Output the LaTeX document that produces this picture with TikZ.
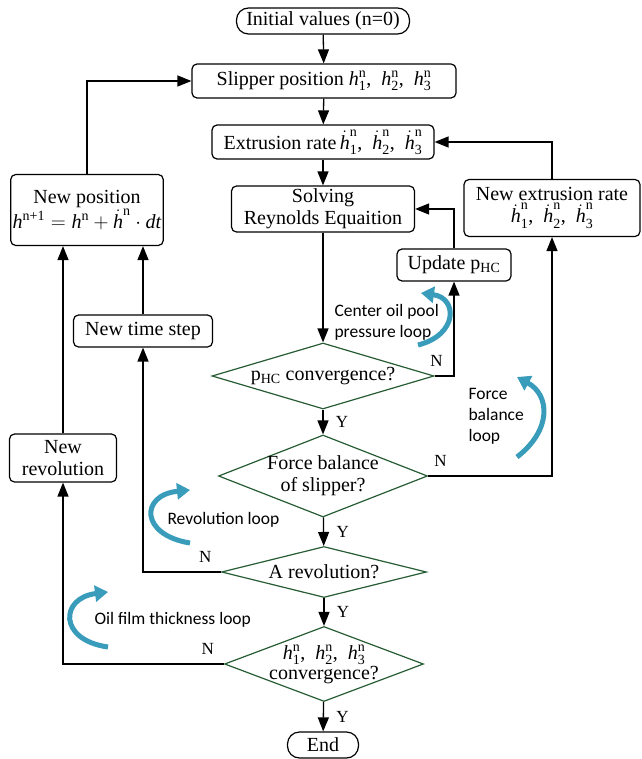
\documentclass[tikz,border=0pt]{standalone}
\usepackage{amsmath}
\usepackage{fontspec}
\setmainfont{Liberation Serif}
\newfontfamily\loopfont{Carlito}
\usetikzlibrary{arrows.meta,shapes.geometric}

\definecolor{decgreen}{RGB}{38,92,52}
\definecolor{loopblue}{RGB}{56,156,186}

\newcommand{\hv}{\text{\itshape h}}
\newcommand{\hn}[1]{\hv_{\text{#1}}^{\text{n}}}
\newcommand{\hdn}[1]{\dot{\hv}_{\text{#1}}^{\text{n}}}

\begin{document}
\begin{tikzpicture}[x=1pt, y=-1pt,
  box/.style={draw, rounded corners=5pt, line width=1.2pt, inner sep=2pt,
    align=center, font=\fontsize{20}{22}\selectfont},
  term/.style={box, rounded corners=12pt},
  decision/.style={diamond, draw=decgreen, line width=1.2pt, inner sep=0pt},
  dtext/.style={align=center, font=\fontsize{20}{22}\selectfont},
  arr/.style={line width=1.3pt, -{Triangle[length=14pt,width=11pt]}},
  yn/.style={font=\fontsize{17}{17}\selectfont},
  looparr/.style={loopblue, line width=5pt, -{Triangle[length=13pt,width=16pt]}},
  looptxt/.style={font=\loopfont\fontsize{17.5}{21}\selectfont, align=left, anchor=west}]
  \useasboundingbox (0,0) rectangle (641,759);

  % main column
  \node[term, minimum width=173pt, minimum height=26pt] (init) at (323,21) {Initial values (n=0)};
  \node[box, minimum width=264pt, minimum height=34pt] (slip) at (324,81)
    {Slipper position $\hn{1}$,~~$\hn{2}$,~~$\hn{3}$};
  \node[box, minimum width=222pt, minimum height=34pt] (ext) at (323,142)
    {Extrusion rate\,$\hdn{1}$,~~$\hdn{2}$,~~$\hdn{3}$};
  \node[box, minimum width=183pt, minimum height=46pt] (solve) at (323,209)
    {Solving\\Reynolds Equaition};

  % decisions
  \node[decision, minimum width=222pt, minimum height=66pt] (phc) at (323,376) {};
  \node[dtext] at (phc) {p\textsubscript{HC} convergence?};
  \node[decision, minimum width=209pt, minimum height=82pt] (force) at (323,476) {};
  \node[dtext] at (force) {Force balance\\of slipper?};
  \node[decision, minimum width=205pt, minimum height=51pt] (rev) at (324,572) {};
  \node[dtext] at (rev) {A revolution?};
  \node[decision, minimum width=199pt, minimum height=75pt] (hconv) at (324,664) {};
  \node[dtext, font=\fontsize{20}{17}\selectfont] at (hconv)
    {$\hn{1}$,~~$\hn{2}$,~~$\hn{3}$\\convergence?};
  \node[term, minimum width=71pt, minimum height=26pt] (end) at (323,745) {End};

  % side boxes
  \node[box, minimum width=114pt, minimum height=32pt] (upd) at (454,265) {Update p\textsubscript{HC}};
  \node[box, minimum width=176pt, minimum height=57pt] (newext) at (552,208)
    {New extrusion rate\\$\hdn{1}$,~~$\hdn{2}$,~~$\hdn{3}$};
  \node[box, minimum width=150pt, minimum height=71pt] (newpos) at (87,210)
    {New position\\$\hv^{\text{n+1}}=\hv^{\text{n}}+\dot{\hv}^{\text{n}}\cdot \text{\itshape dt}$};
  \node[box, minimum width=139pt, minimum height=32pt] (tstep) at (143,331) {New time step};
  \node[box, minimum width=107pt, minimum height=48pt] (newrev) at (63,458) {New\\revolution};

  % main flow
  \draw[arr] (init) -- (slip);
  \draw[arr] (slip) -- (ext);
  \draw[arr] (ext) -- (solve);
  \draw[arr] (solve) -- (phc);
  \draw[arr] (phc) -- node[yn, right=9pt]{Y} (force);
  \draw[arr] (force) -- node[yn, right=9pt]{Y} (rev);
  \draw[arr] (rev) -- node[yn, right=9pt]{Y} (hconv);
  \draw[arr] (hconv) -- node[yn, right=9pt]{Y} (end);

  % loops back
  \draw[arr] (phc.east) -| node[yn, above=6pt, pos=0.05]{N} (upd);
  \draw[arr] (upd) |- (solve);
  \draw[arr] (force.east) -| node[yn, above=6pt, pos=0.05]{N} (newext);
  \draw[arr] (newext) |- (ext);
  \draw[arr] (rev.west) -| node[yn, above=6pt, pos=0.1]{N} (tstep);
  \draw[arr] (tstep) -- (tstep |- newpos.south);
  \draw[arr] (hconv.west) -| node[yn, above=6pt, pos=0.05]{N} (newrev);
  \draw[arr] (newrev) -- (newrev |- newpos.south);
  \draw[arr] (newpos) |- (slip);

  % loop marks
  \draw[looparr] (418,345) .. controls (458,335) and (458,298) .. (421,293);
  \node[looptxt] (oilpool) at (331,322) {Center oil pool\\pressure loop};
  \draw[looparr] (517,457) .. controls (552,430) and (550,395) .. (517,377);
  \node[looptxt] (forceloop) at (465,416) {Force\\balance\\loop};
  \draw[looparr] (190,543) .. controls (140,535) and (140,495) .. (190,490);
  \node[looptxt] (revloop) at (164,520) {Revolution loop};
  \draw[looparr] (108,647) .. controls (58,640) and (60,598) .. (108,592);
  \node[looptxt] (filmloop) at (91,620) {Oil film thickness loop};
\end{tikzpicture}
\end{document}
